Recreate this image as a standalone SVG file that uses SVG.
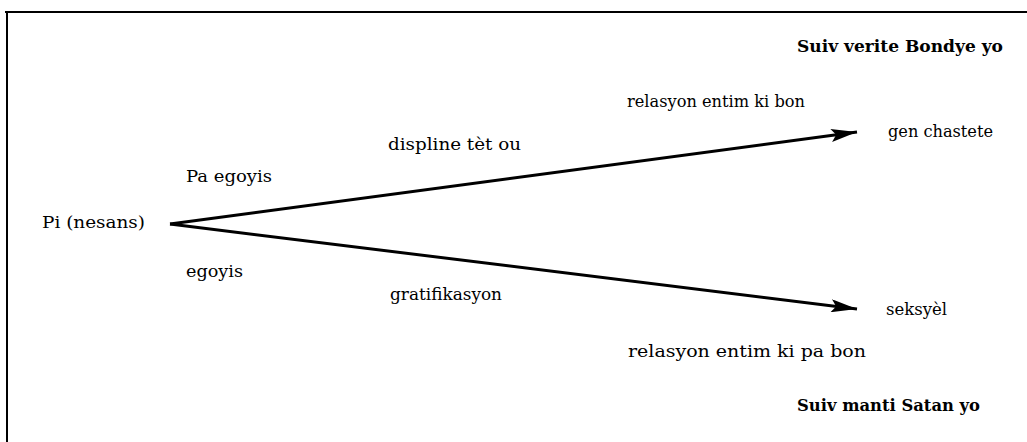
<svg xmlns="http://www.w3.org/2000/svg" width="1027" height="442" viewBox="0 0 1027 442">
<style>
text{font-family:"DejaVu Serif","Liberation Serif",serif;font-size:16px;fill:#000}
.b{font-weight:bold}
.ln{stroke:#000;stroke-width:3;fill:none}
</style>
<defs>
<marker id="ah2" viewBox="0 0 26 13" refX="26" refY="6.5" markerWidth="26" markerHeight="13" orient="auto" markerUnits="userSpaceOnUse"><path d="M0,0 L26,6.5 L0,13 L5,6.5 Z" fill="#000"/></marker>
</defs>
<rect width="1027" height="442" fill="#fff"/>
<g id="frame"><path d="M5,12 H1027 M7,12 V442" stroke="#000" stroke-width="2" fill="none"/></g>
<g id="connectors">
<line class="ln" x1="170" y1="224" x2="857" y2="132" marker-end="url(#ah2)"/>
<line class="ln" x1="170" y1="224" x2="857" y2="309" marker-end="url(#ah2)"/>
</g>
<g id="node-pi"><text x="42" y="228" textLength="103" lengthAdjust="spacingAndGlyphs">Pi (nesans)</text></g>
<g id="node-chastete"><text x="888" y="137" textLength="105" lengthAdjust="spacingAndGlyphs">gen chastete</text></g>
<g id="node-seksyel"><text x="886" y="315" textLength="61" lengthAdjust="spacingAndGlyphs">seksyèl</text></g>
<g id="labels">
<text class="b" x="797" y="52" textLength="206" lengthAdjust="spacingAndGlyphs">Suiv verite Bondye yo</text>
<text x="627" y="107" textLength="178" lengthAdjust="spacingAndGlyphs">relasyon entim ki bon</text>
<text x="388" y="150" textLength="133" lengthAdjust="spacingAndGlyphs">displine tèt ou</text>
<text x="186" y="182" textLength="86" lengthAdjust="spacingAndGlyphs">Pa egoyis</text>
<text x="186" y="277" textLength="57" lengthAdjust="spacingAndGlyphs">egoyis</text>
<text x="390" y="300" textLength="112" lengthAdjust="spacingAndGlyphs">gratifikasyon</text>
<text x="628" y="357" textLength="238" lengthAdjust="spacingAndGlyphs">relasyon entim ki pa bon</text>
<text class="b" x="797" y="411" textLength="183" lengthAdjust="spacingAndGlyphs">Suiv manti Satan yo</text>
</g>
</svg>
